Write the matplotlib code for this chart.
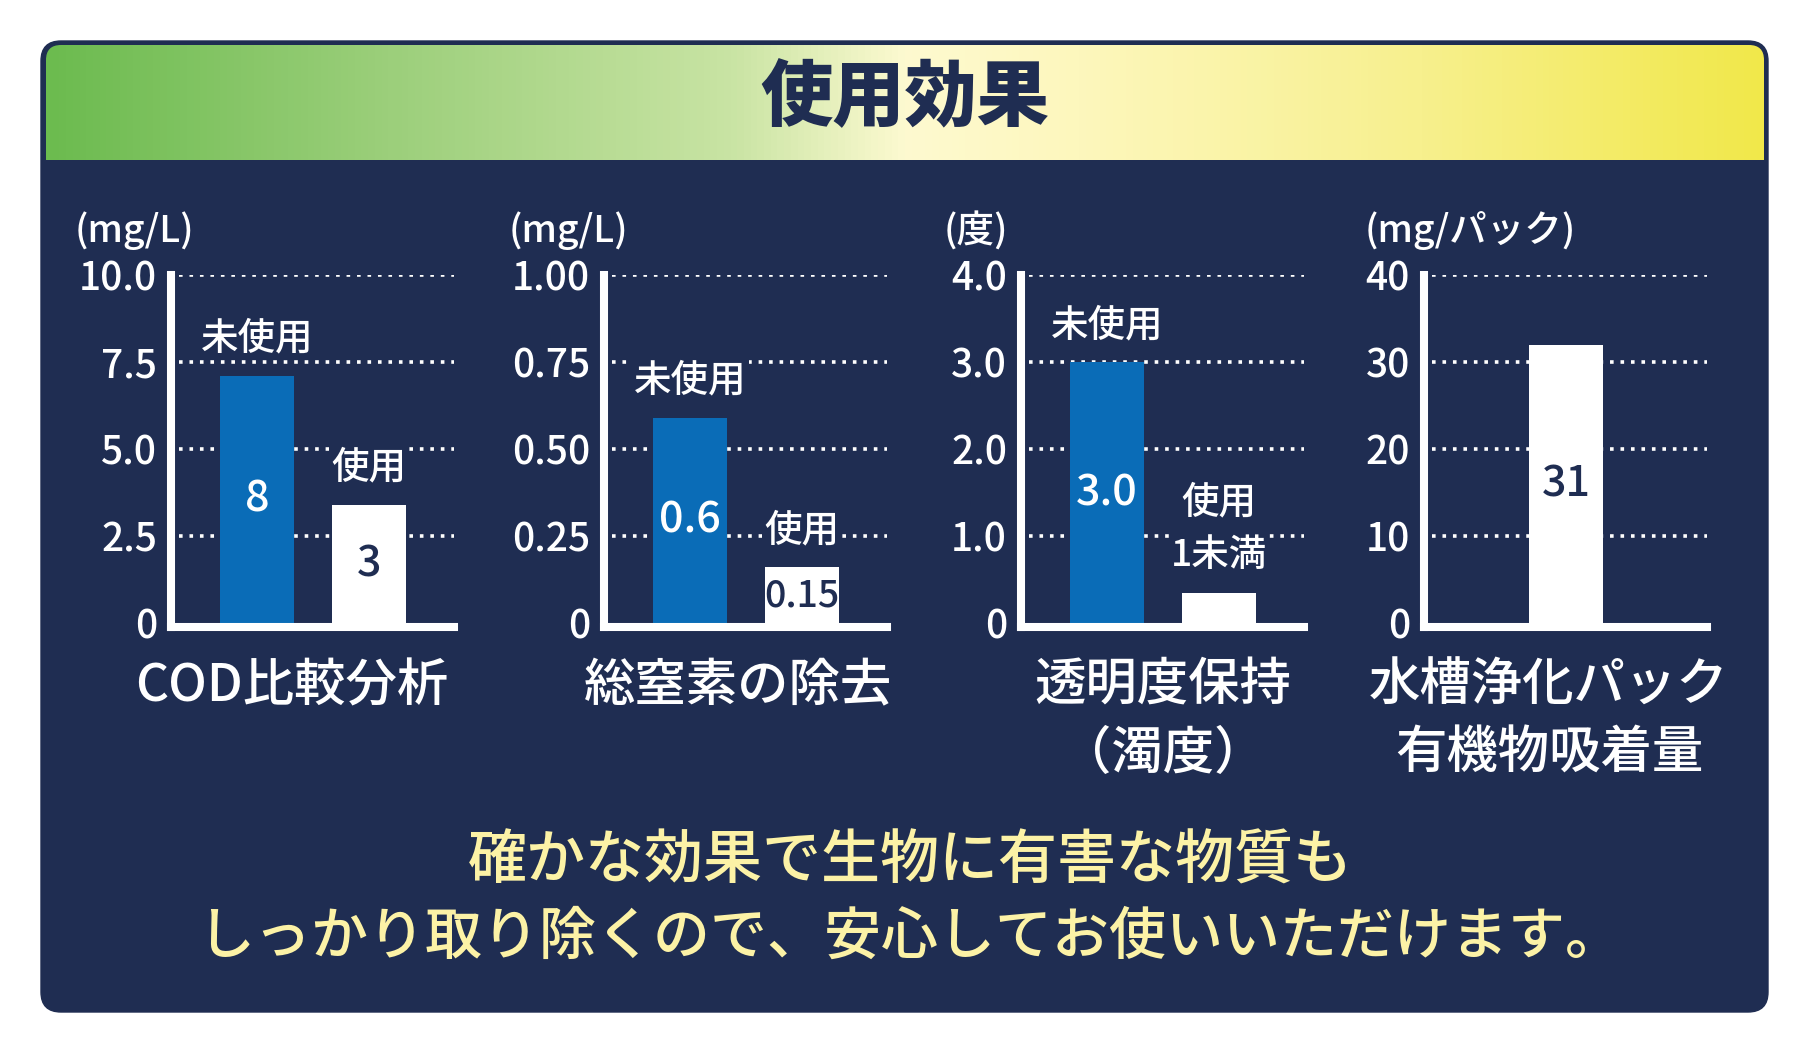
"""使用効果 — four small bar charts on a navy card with a gradient header.

Writes out.png (1809x1054).
"""

import matplotlib

matplotlib.use("Agg")
import matplotlib.pyplot as plt  # noqa: E402
import numpy as np  # noqa: E402
from matplotlib.colors import LinearSegmentedColormap  # noqa: E402
from matplotlib.patches import FancyBboxPatch  # noqa: E402

plt.rcParams["font.family"] = ["Noto Sans CJK JP", "DejaVu Sans"]

NAVY, BLUE, WHITE, CREAM = "#1f2d52", "#0a6cb7", "#ffffff", "#fcf2a6"

# ---- data -------------------------------------------------------------
TITLE = "使用効果"
PANEL_TITLES = ["COD比較分析", "総窒素の除去", "透明度保持\n（濁度）", "水槽浄化パック\n有機物吸着量"]
UNITS = ["(mg/L)", "(mg/L)", "(度)", "(mg/パック)"]

COD_HEIGHTS = [7.1, 3.4]
COD_VALUES = ["8", "3"]
NITROGEN_HEIGHTS = [0.59, 0.16]
NITROGEN_VALUES = ["0.6", "0.15"]
TURBIDITY_HEIGHTS = [3.0, 0.35]
TURBIDITY_VALUES = ["3.0", ""]
PACK_HEIGHTS = [31.9]
PACK_VALUES = ["31"]

GROUPS = ["未使用", "使用"]
TURBIDITY_GROUPS = ["未使用", "使用\n1未満"]

COD_TICKS = [0, 2.5, 5.0, 7.5, 10.0]
COD_TICKLABELS = ["0", "2.5", "5.0", "7.5", "10.0"]
NITROGEN_TICKS = [0, 0.25, 0.5, 0.75, 1.0]
NITROGEN_TICKLABELS = ["0", "0.25", "0.50", "0.75", "1.00"]
TURBIDITY_TICKS = [0, 1, 2, 3, 4]
TURBIDITY_TICKLABELS = ["0", "1.0", "2.0", "3.0", "4.0"]
PACK_TICKS = [0, 10, 20, 30, 40]
PACK_TICKLABELS = ["0", "10", "20", "30", "40"]

SUMMARY = ["確かな効果で生物に有害な物質も",
           "しっかり取り除くので、安心してお使いいただけます。"]

panels = [
    dict(heights=COD_HEIGHTS, values=COD_VALUES, groups=GROUPS,
         ticks=COD_TICKS, ticklabels=COD_TICKLABELS, colors=[BLUE, WHITE]),
    dict(heights=NITROGEN_HEIGHTS, values=NITROGEN_VALUES, groups=GROUPS,
         ticks=NITROGEN_TICKS, ticklabels=NITROGEN_TICKLABELS, colors=[BLUE, WHITE]),
    dict(heights=TURBIDITY_HEIGHTS, values=TURBIDITY_VALUES, groups=TURBIDITY_GROUPS,
         ticks=TURBIDITY_TICKS, ticklabels=TURBIDITY_TICKLABELS, colors=[BLUE, WHITE]),
    dict(heights=PACK_HEIGHTS, values=PACK_VALUES, groups=[""],
         ticks=PACK_TICKS, ticklabels=PACK_TICKLABELS, colors=[WHITE]),
]

W, H = 1809, 1054
fig = plt.figure(figsize=(W / 100, H / 100), dpi=100)
fig.patch.set_facecolor("white")

# background layer in pixel coordinates
bg = fig.add_axes([0, 0, 1, 1])
bg.set_xlim(0, W)
bg.set_ylim(H, 0)
bg.axis("off")

r = 20
bg.add_patch(FancyBboxPatch((41 + r, 41 + r), 1727 - 2 * r, 971 - 2 * r,
                            boxstyle=f"round,pad={r}", facecolor=NAVY,
                            edgecolor=NAVY, linewidth=1, zorder=1))

# gradient header, rounded on top only
cmap = LinearSegmentedColormap.from_list("hdr", [
    (0.0, "#6cbb4f"), (0.2, "#9ccf7b"), (0.4, "#c9e4a4"),
    (0.5, "#fdfad0"), (0.6, "#fdf7bd"), (0.8, "#f7f08e"), (1.0, "#f1e84a")])
grad = np.linspace(0, 1, 512).reshape(1, -1)
im = bg.imshow(grad, cmap=cmap, aspect="auto", extent=(46, 1764, 160, 45), zorder=2)
rr = 15
clip = FancyBboxPatch((46 + rr, 45 + rr), 1718 - 2 * rr, 200, boxstyle=f"round,pad={rr}",
                      facecolor="none", edgecolor="none", transform=bg.transData)
bg.add_patch(clip)
im.set_clip_path(clip)
bg.set_xlim(0, W)
bg.set_ylim(H, 0)

bg.text(905, 99, TITLE, ha="center", va="center", fontsize=52, fontweight="heavy",
        color=NAVY, zorder=3)

# ---- the four bar charts ---------------------------------------------
lefts = [171, 604, 1021, 1424]
unit_x = [75, 509, 944, 1365]
title_x = [292, 738, 1163, 1549]
ax_w, ax_top, ax_bot = 283, 275, 627
bar_w = 0.66

for i, p in enumerate(panels):
    ax = fig.add_axes([lefts[i] / W, (H - ax_bot) / H, ax_w / W, (ax_bot - ax_top) / H])
    ax.set_facecolor("none")
    ymax = p["ticks"][-1]
    ax.set_ylim(-ymax * 4 / 348, ymax)
    ax.set_xlim(-0.768, 1.759)

    xs = [0.5] if len(p["heights"]) == 1 else list(range(len(p["heights"])))
    ax.hlines(p["ticks"][1:], -0.70, 1.759, colors=WHITE, linewidth=2.6,
              linestyles=(0, (1, 1.9)), zorder=1)
    ax.bar(xs, p["heights"], width=bar_w, color=p["colors"], zorder=2)

    for x, h, val, grp, col in zip(xs, p["heights"], p["values"], p["groups"], p["colors"]):
        small = len(val) > 3
        ax.text(x, h / 2, val, ha="center", va="center",
                fontsize=27 if small else 31, fontweight="medium",
                color=WHITE if col == BLUE else NAVY, zorder=3)
        if grp:
            ax.annotate(grp, (x, h), xytext=(0, 13), textcoords="offset points",
                        ha="center", va="bottom", fontsize=27, color=WHITE,
                        fontweight="medium", linespacing=1.5, zorder=3,
                        bbox=dict(facecolor=NAVY, edgecolor="none", pad=1.5))

    for side in ("top", "right"):
        ax.spines[side].set_visible(False)
    for side in ("left", "bottom"):
        ax.spines[side].set_color(WHITE)
        ax.spines[side].set_linewidth(5.8)
        ax.spines[side].set_zorder(2.5)
    ax.set_xticks([])
    ax.set_yticks(p["ticks"], p["ticklabels"])
    ax.tick_params(axis="y", length=0, pad=10, labelsize=28, labelcolor=WHITE)
    for lab in ax.get_yticklabels():
        lab.set_fontweight("medium")

    bg.text(unit_x[i], 231, UNITS[i], ha="left", va="center", fontsize=27,
            fontweight="medium", color=WHITE, zorder=3)
    for j, line in enumerate(PANEL_TITLES[i].split("\n")):
        bg.text(title_x[i], 686 + 68 * j, line, ha="center", va="center",
                fontsize=37, fontweight="medium", color=WHITE, zorder=3)

# the second line is set a touch smaller: the original uses proportional kana
for j, (line, fs) in enumerate(zip(SUMMARY, [42.5, 41])):
    bg.text(910, 862 + 76 * j, line, ha="center", va="center", fontsize=fs,
            fontweight="medium", color=CREAM, zorder=3)

fig.savefig("out.png", dpi=100, facecolor="white")
